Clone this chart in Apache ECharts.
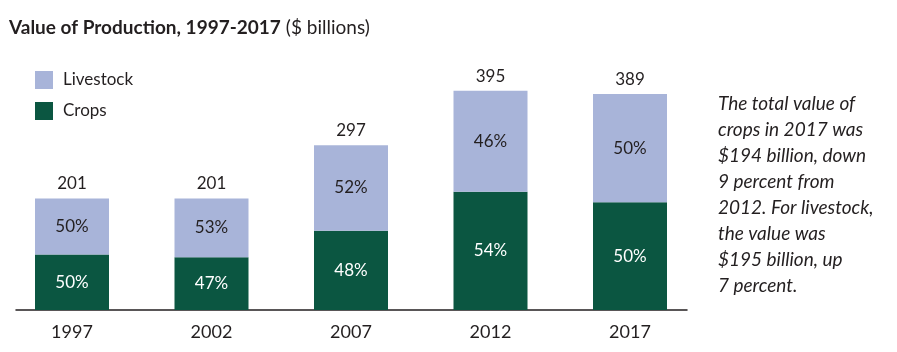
<!DOCTYPE html>
<html>
<head>
<meta charset="utf-8">
<script src="https://cdn.jsdelivr.net/npm/echarts@6/dist/echarts.min.js"></script>
<style>
html,body{margin:0;padding:0;background:#fff;}
#chart{width:897px;height:352px;}
</style>
</head>
<body>
<div id="chart"></div>
<script>
// data ($ billions)
var years = ['1997', '2002', '2007', '2012', '2017'];
var crops = [100, 95, 143, 213, 194];
var livestock = [101, 106, 154, 182, 195];
var totals = [201, 201, 297, 395, 389];
var cropsPct = ['50%', '47%', '48%', '54%', '50%'];
var livestockPct = ['50%', '53%', '52%', '46%', '50%'];
var noteLines = [
	'The total value of',
	'crops in 2017 was',
	'$194 billion, down',
	'9 percent from',
	'2012. For livestock,',
	'the value was',
	'$195 billion, up',
	'7 percent.'
];

var font = 'Lato, "Noto Sans", sans-serif';
var ink = '#231f20';
var cropColor = '#0b5641';
var liveColor = '#a8b4d9';

var myChart = echarts.init(document.getElementById('chart'));
var option = {
	animation: false,
	title: [
		{
			left: 4, top: 13,
			text: '{b|Value of Production, 1997-2017} {n|($ billions)}',
			textStyle: {
				rich: {
					b: {fontFamily: font, fontWeight: 'bold', fontSize: 19, color: ink},
					n: {fontFamily: font, fontWeight: 'normal', fontSize: 19, color: ink}
				}
			}
		},
		{
			left: 713, top: 86,
			text: noteLines.join('\n'),
			textStyle: {fontFamily: font, fontStyle: 'italic', fontWeight: 'normal', fontSize: 19, lineHeight: 26, color: ink}
		}
	],
	legend: {
		orient: 'vertical',
		left: 30, top: 66,
		itemWidth: 18, itemHeight: 18, itemGap: 13,
		icon: 'rect',
		data: ['Livestock', 'Crops'],
		textStyle: {fontFamily: font, fontSize: 17, color: ink, padding: [0, 0, 0, 5]}
	},
	grid: [
		{left: 2.25, width: 697.5, top: 88, bottom: 42},
		{left: 16, width: 671, top: 88, bottom: 42}
	],
	xAxis: [
		{
			type: 'category', gridIndex: 0, data: years,
			axisLine: {show: false}, axisTick: {show: false},
			axisLabel: {fontFamily: font, fontSize: 18, color: ink, margin: 13}
		},
		{
			type: 'category', gridIndex: 1, data: years,
			axisLine: {show: true, lineStyle: {color: ink, width: 1.5}},
			axisTick: {show: false}, axisLabel: {show: false}
		}
	],
	yAxis: [
		{type: 'value', gridIndex: 0, min: 0, max: 400, show: false},
		{type: 'value', gridIndex: 1, min: 0, max: 400, show: false}
	],
	series: [
		{
			name: 'Crops', type: 'bar', stack: 'v', barWidth: 74,
			data: crops,
			itemStyle: {color: cropColor},
			label: {
				show: true, position: 'inside',
				fontFamily: font, fontSize: 17, color: '#fff',
				formatter: function(p){ return cropsPct[p.dataIndex]; }
			}
		},
		{
			name: 'Livestock', type: 'bar', stack: 'v', barWidth: 74,
			data: livestock,
			itemStyle: {color: liveColor},
			label: {
				show: true, position: 'inside',
				fontFamily: font, fontSize: 17, color: ink,
				formatter: function(p){ return livestockPct[p.dataIndex]; }
			}
		},
		{
			name: 'Total', type: 'bar', stack: 'v', barWidth: 74,
			data: years.map(function(){ return 0; }),
			itemStyle: {color: 'transparent'},
			label: {
				show: true, position: 'top', distance: 6,
				fontFamily: font, fontSize: 17, color: ink,
				formatter: function(p){ return String(totals[p.dataIndex]); }
			}
		}
	]
};
myChart.setOption(option);
</script>
</body>
</html>
